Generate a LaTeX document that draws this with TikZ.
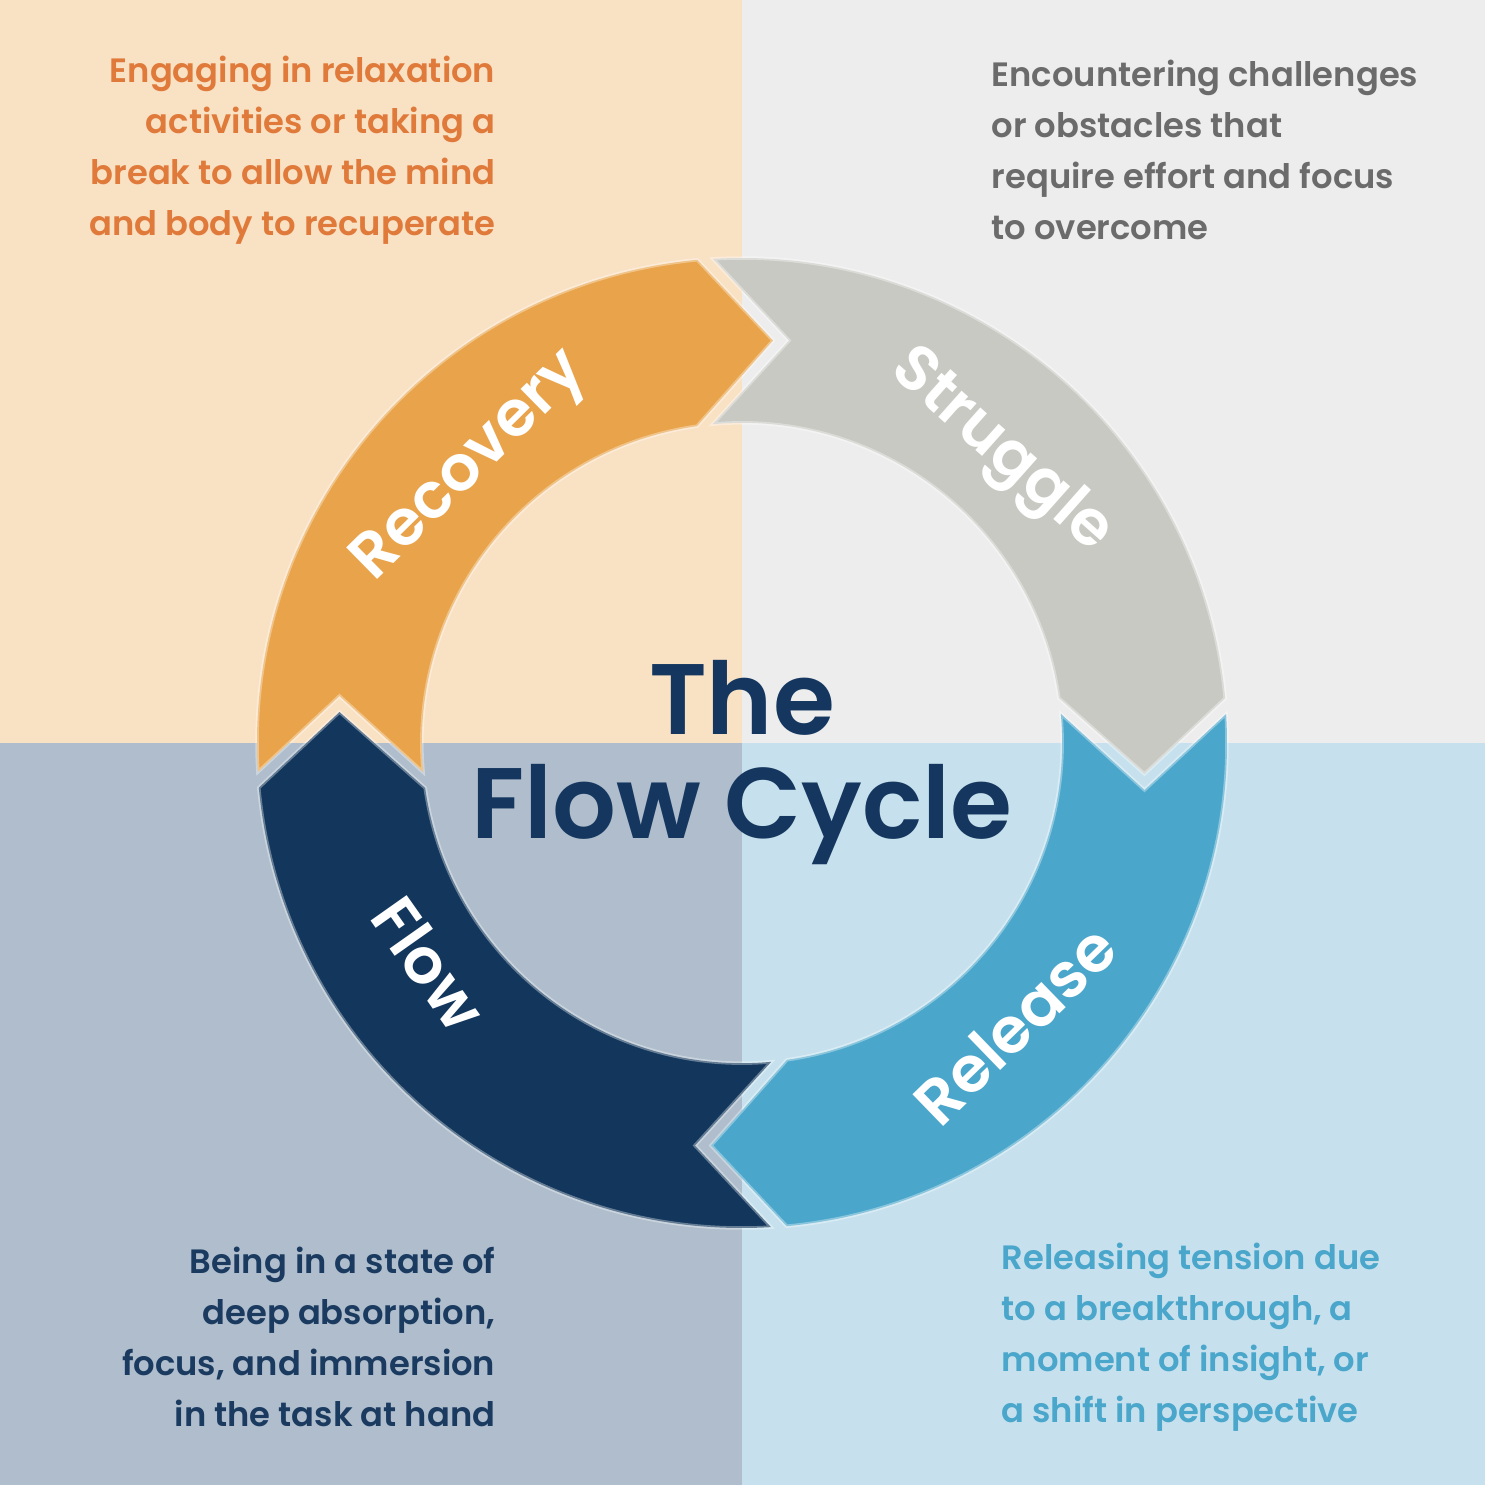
\documentclass[tikz,border=0pt]{standalone}
\usepackage{fontspec}
\setmainfont{Poppins}[BoldFont={Poppins SemiBold}]

% Quadrant backgrounds
\definecolor{bgRecovery}{HTML}{F9E1C4}
\definecolor{bgStruggle}{HTML}{EDEDED}
\definecolor{bgFlow}{HTML}{AFBDCC}
\definecolor{bgRelease}{HTML}{C6E1ED}
% Ring segments
\definecolor{segRecovery}{HTML}{E9A44B}
\definecolor{segStruggle}{HTML}{C9C9C4}
\definecolor{segFlow}{HTML}{12365C}
\definecolor{segRelease}{HTML}{4AA6CB}
% Texts
\definecolor{txtRecovery}{HTML}{E07A3B}
\definecolor{txtStruggle}{HTML}{6B6B6B}
\definecolor{txtFlow}{HTML}{1A3A60}
\definecolor{txtRelease}{HTML}{4AA6CB}
\definecolor{txtTitle}{HTML}{15375F}

\begin{document}
\begin{tikzpicture}[
    x=0.01cm, y=0.01cm,
    every node/.style={inner sep=0pt},
    segment/.style={draw=white, draw opacity=0.35, line width=0.035cm},
    seglabel/.style={text=white, font=\fontsize{18}{20}\selectfont\bfseries},
    desc/.style={font=\fontsize{9.6}{14.5}\selectfont\bfseries},
    titletext/.style={text=txtTitle, font=\fontsize{28.5}{30}\selectfont\bfseries}
]

% Ring radii
\def\rout{4.85cm}
\def\rin{3.20cm}

% Canvas
\useasboundingbox (-742,-742) rectangle (743,743);

% --- Quadrants ---
\fill[bgRecovery] (-742,0) rectangle (0,743);
\fill[bgStruggle] (0,0) rectangle (743,743);
\fill[bgFlow] (-742,-742) rectangle (0,0);
\fill[bgRelease] (0,-742) rectangle (743,0);

% --- Ring segments (head at top before rotation) ---
% Recovery: left -> top
\begin{scope}[rotate=0]
\filldraw[segment, fill=segRecovery] (183.43:485) arc[start angle=183.43, end angle=95.32, radius=\rout]
    -- (31,402.5) -- (98.08:320) arc[start angle=98.08, end angle=185.2, radius=\rin]
    -- (-402.5,47) -- cycle;
\end{scope}
% Struggle: top -> right
\begin{scope}[rotate=-90]
\filldraw[segment, fill=segStruggle] (183.43:485) arc[start angle=183.43, end angle=95.32, radius=\rout]
    -- (31,402.5) -- (98.08:320) arc[start angle=98.08, end angle=185.2, radius=\rin]
    -- (-402.5,47) -- cycle;
\end{scope}
% Release: right -> bottom
\begin{scope}[rotate=-180]
\filldraw[segment, fill=segRelease] (183.43:485) arc[start angle=183.43, end angle=95.32, radius=\rout]
    -- (31,402.5) -- (98.08:320) arc[start angle=98.08, end angle=185.2, radius=\rin]
    -- (-402.5,47) -- cycle;
\end{scope}
% Flow: bottom -> left
\begin{scope}[rotate=90]
\filldraw[segment, fill=segFlow] (183.43:485) arc[start angle=183.43, end angle=95.32, radius=\rout]
    -- (31,402.5) -- (98.08:320) arc[start angle=98.08, end angle=185.2, radius=\rin]
    -- (-402.5,47) -- cycle;
\end{scope}

% --- Segment labels ---
\node[seglabel, rotate=44.5] (lblRecovery) at (134.5:386) {Recovery};
\node[seglabel, rotate=-41.6] (lblStruggle) at (48.4:389) {Struggle};
\node[seglabel, rotate=44.1] (lblRelease) at (-45.9:392) {Release};
\node[seglabel, rotate=-54.8] (lblFlow) at (215.2:383) {Flow};

% --- Title ---
\node[titletext, anchor=base] (titleThe) at (0,8) {The};
\node[titletext, anchor=base] (titleCycle) at (0,-96) {Flow Cycle};

% --- Descriptions ---
\node[desc, text=txtRecovery, align=right, anchor=east] (descRecovery) at (-246,593)
    {Engaging in relaxation\\activities or taking a\\break to allow the mind\\and body to recuperate};
\node[desc, text=txtStruggle, align=left, anchor=west] (descStruggle) at (249,593)
    {Encountering challenges\\or obstacles that\\require effort and focus\\to overcome};
\node[desc, text=txtFlow, align=right, anchor=east] (descFlow) at (-246,-594)
    {Being in a state of\\deep absorption,\\focus, and immersion\\in the task at hand};
\node[desc, text=txtRelease, align=left, anchor=west] (descRelease) at (259,-594)
    {Releasing tension due\\to a breakthrough, a\\moment of insight, or\\a shift in perspective};

\end{tikzpicture}
\end{document}
